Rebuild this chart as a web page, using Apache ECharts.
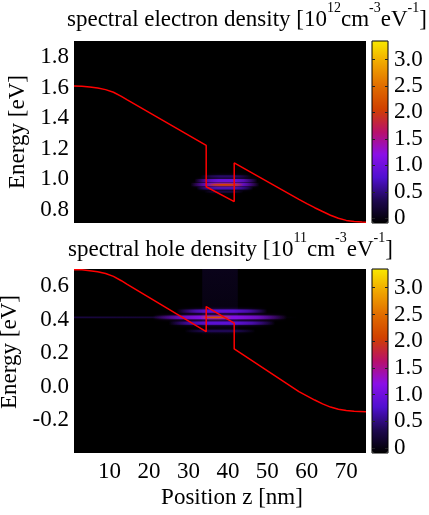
<!DOCTYPE html>
<html>
<head>
<meta charset="utf-8">
<script src="https://cdn.jsdelivr.net/npm/echarts@6/dist/echarts.min.js"></script>
<style>html,body{margin:0;padding:0;background:#fff;}#c{width:429px;height:515px;}</style>
</head>
<body>
<div id="c"></div>
<script>
// ---------- data ----------
const zTicks = [10, 20, 30, 40, 50, 60, 70];
const topETicks = [0.8, 1.0, 1.2, 1.4, 1.6, 1.8];
const botETicks = [-0.2, 0.0, 0.2, 0.4, 0.6];
const cbTicks = [0, 0.5, 1.0, 1.5, 2.0, 2.5, 3.0];

// conduction band edge (top panel)
const cbZ = [1, 3, 5, 7, 9, 11, 13, 14.5, 34.5, 34.5, 41.6, 41.6, 58, 60, 62, 64, 66, 68, 70, 72, 74, 75];
const cbE = [1.610, 1.609, 1.604, 1.597, 1.587, 1.570, 1.543, 1.520, 1.222, 0.952, 0.855, 1.108, 0.870, 0.842, 0.815, 0.790, 0.766, 0.746, 0.732, 0.725, 0.721, 0.720];

// valence band edge (bottom panel)
const vbZ = [1, 3, 5, 7, 9, 11, 13, 14.5, 34.5, 34.5, 41.6, 41.6, 58, 60, 62, 64, 66, 68, 70, 72, 75];
const vbE = [0.698, 0.697, 0.692, 0.685, 0.675, 0.658, 0.632, 0.610, 0.328, 0.478, 0.379, 0.225, -0.030, -0.055, -0.080, -0.103, -0.122, -0.135, -0.143, -0.147, -0.150];

// spectral density streaks: z range, energy range, density value, fade kind (0 both sides, 1 to the right, 2 downward)
const topSZ0 = [33, 31.5, 30.5, 32, 34, 34.5];
const topSZ1 = [46, 47.5, 48, 46.5, 44, 44];
const topSE0 = [1.012, 0.982, 0.956, 0.934, 0.912, 0.958];
const topSE1 = [1.028, 1.002, 0.976, 0.950, 0.924, 0.971];
const topSV  = [0.40, 0.95, 1.05, 0.70, 0.25, 2.05];
const topSF  = [0, 0, 0, 0, 0, 0];

const botSZ0 = [33.5, 1, 27, 21, 25, 29, 33];
const botSZ1 = [42.5, 58, 50, 55, 52, 47, 41];
const botSE0 = [0.28, 0.408, 0.441, 0.402, 0.369, 0.325, 0.408];
const botSE1 = [0.702, 0.418, 0.461, 0.424, 0.389, 0.339, 0.418];
const botSV  = [0.05, 0.25, 0.85, 1.15, 0.85, 0.35, 2.2];
const botSF  = [2, 1, 0, 0, 0, 0, 0];

const cbMin = -0.09, cbMax = 3.35;
const palette = ['#000000', '#1e0850', '#5010d0', '#8a10e8', '#b8106a', '#d04000', '#e06c00', '#f0a400', '#f8e800'];

// ---------- chart ----------
const FONT = 'Liberation Serif';
const zip = (a, b) => a.map((v, i) => [v, b[i]]);
const streaks = (z0, z1, e0, e1, v, f) => z0.map((_, i) => [z0[i], z1[i], e0[i], e1[i], v[i], f[i]]);

function renderStreak(params, api) {
  const p0 = api.coord([api.value(0), api.value(3)]);
  const p1 = api.coord([api.value(1), api.value(2)]);
  const c = api.visual('color');
  const a = (al) => echarts.color.modifyAlpha(c, al);
  const kind = api.value(5);
  let grad;
  if (kind === 0) {
    grad = new echarts.graphic.LinearGradient(0, 0, 1, 0, [
      {offset: 0, color: a(0)}, {offset: 0.22, color: a(0.7)}, {offset: 0.38, color: a(1)},
      {offset: 0.62, color: a(1)}, {offset: 0.78, color: a(0.7)}, {offset: 1, color: a(0)}]);
  } else if (kind === 1) {
    grad = new echarts.graphic.LinearGradient(0, 0, 1, 0, [
      {offset: 0, color: a(1)}, {offset: 0.6, color: a(0.7)}, {offset: 1, color: a(0)}]);
  } else {
    grad = new echarts.graphic.LinearGradient(0, 0, 0, 1, [
      {offset: 0, color: a(1)}, {offset: 0.7, color: a(0.6)}, {offset: 1, color: a(0)}]);
  }
  return {
    type: 'rect',
    shape: {x: p0[0], y: p0[1], width: p1[0] - p0[0], height: p1[1] - p0[1]},
    style: {fill: grad, shadowBlur: kind === 0 ? 3 : 0, shadowColor: a(0.7)}
  };
}

const tickFont = {fontFamily: FONT, fontSize: 23, color: '#000'};

function titleRich(txt) {
  return {
    text: txt,
    padding: 0,
    textStyle: {
      fontFamily: FONT, fontSize: 23, fontWeight: 'normal', color: '#000',
      rich: {
        n: {fontFamily: FONT, fontSize: 23, color: '#000', verticalAlign: 'bottom', lineHeight: 30},
        s: {fontFamily: FONT, fontSize: 14, color: '#000', verticalAlign: 'top', lineHeight: 14}
      }
    }
  };
}

const cbAxis = (grid, pos, labels) => ({
  gridIndex: grid, type: 'value', min: cbMin, max: cbMax, position: pos, z: 10,
  axisLine: {show: false}, splitLine: {show: false},
  axisTick: {show: true, inside: true, length: 3, customValues: cbTicks, lineStyle: {color: '#222'}},
  axisLabel: labels
    ? Object.assign({customValues: cbTicks, margin: 6, formatter: v => v === 0 ? '0' : v.toFixed(1)}, tickFont)
    : {show: false}
});

const chart = echarts.init(document.getElementById('c'), null, {renderer: 'canvas'});
chart.setOption({
  animation: false,
  backgroundColor: '#fff',
  title: [
    Object.assign({left: 67, top: 1}, titleRich('{n|spectral electron density [10}{s|12}{n|cm}{s|-3}{n|eV}{s|-1}{n|]}')),
    Object.assign({left: 68, top: 231}, titleRich('{n|spectral hole density [10}{s|11}{n|cm}{s|-3}{n|eV}{s|-1}{n|]}'))
  ],
  grid: [
    {left: 74, top: 41, width: 292, height: 182, show: true, backgroundColor: '#000', borderWidth: 0, outerBoundsMode: 'none'},
    {left: 74, top: 269, width: 292, height: 184, show: true, backgroundColor: '#000', borderWidth: 0, outerBoundsMode: 'none'},
    {left: 372, top: 41, width: 16, height: 182, show: true, backgroundColor: 'transparent', borderColor: '#000', borderWidth: 1, z: 10, outerBoundsMode: 'none'},
    {left: 372, top: 269, width: 16, height: 184, show: true, backgroundColor: 'transparent', borderColor: '#000', borderWidth: 1, z: 10, outerBoundsMode: 'none'}
  ],
  xAxis: [
    {gridIndex: 0, type: 'value', min: 1, max: 75, axisLine: {show: false}, axisTick: {show: false}, axisLabel: {show: false}, splitLine: {show: false}},
    {gridIndex: 1, type: 'value', min: 1, max: 75, axisLine: {show: false}, axisTick: {show: false}, splitLine: {show: false},
      axisLabel: Object.assign({customValues: zTicks, margin: 7}, tickFont),
      name: 'Position z [nm]', nameLocation: 'middle', nameGap: 33,
      nameTextStyle: {fontFamily: FONT, fontSize: 23, color: '#000', padding: [0, 0, 0, 24]}},
    {gridIndex: 2, type: 'value', show: false},
    {gridIndex: 3, type: 'value', show: false}
  ],
  yAxis: [
    {gridIndex: 0, type: 'value', min: 0.715, max: 1.905, axisLine: {show: false}, axisTick: {show: false}, splitLine: {show: false},
      axisLabel: Object.assign({customValues: topETicks, margin: 5, formatter: v => v.toFixed(1)}, tickFont),
      name: 'Energy [eV]', nameLocation: 'middle', nameGap: 43,
      nameTextStyle: {fontFamily: FONT, fontSize: 23, color: '#000'}},
    {gridIndex: 1, type: 'value', min: -0.396, max: 0.702, axisLine: {show: false}, axisTick: {show: false}, splitLine: {show: false},
      axisLabel: Object.assign({customValues: botETicks, margin: 5, formatter: v => v.toFixed(1)}, tickFont),
      name: 'Energy [eV]', nameLocation: 'middle', nameGap: 43,
      nameTextStyle: {fontFamily: FONT, fontSize: 23, color: '#000', padding: [0, 0, 0, 18]}},
    cbAxis(2, 'left', false), cbAxis(2, 'right', true),
    cbAxis(3, 'left', false), cbAxis(3, 'right', true)
  ],
  visualMap: [
    {type: 'continuous', seriesIndex: 0, dimension: 4, min: cbMin, max: cbMax, left: 372, top: 41, itemWidth: 16, itemHeight: 182,
      padding: 0, calculable: false, hoverLink: false, orient: 'vertical', inRange: {color: palette}},
    {type: 'continuous', seriesIndex: 2, dimension: 4, min: cbMin, max: cbMax, left: 372, top: 269, itemWidth: 16, itemHeight: 184,
      padding: 0, calculable: false, hoverLink: false, orient: 'vertical', inRange: {color: palette}}
  ],
  series: [
    {type: 'custom', xAxisIndex: 0, yAxisIndex: 0, renderItem: renderStreak, clip: true, z: 2,
      data: streaks(topSZ0, topSZ1, topSE0, topSE1, topSV, topSF)},
    {type: 'line', xAxisIndex: 0, yAxisIndex: 0, data: zip(cbZ, cbE), symbol: 'none', z: 5,
      lineStyle: {color: '#ff0000', width: 1.5}, itemStyle: {color: '#ff0000'}},
    {type: 'custom', xAxisIndex: 1, yAxisIndex: 1, renderItem: renderStreak, clip: true, z: 2,
      data: streaks(botSZ0, botSZ1, botSE0, botSE1, botSV, botSF)},
    {type: 'line', xAxisIndex: 1, yAxisIndex: 1, data: zip(vbZ, vbE), symbol: 'none', z: 5,
      lineStyle: {color: '#ff0000', width: 1.5}, itemStyle: {color: '#ff0000'}}
  ]
});
</script>
</body>
</html>
